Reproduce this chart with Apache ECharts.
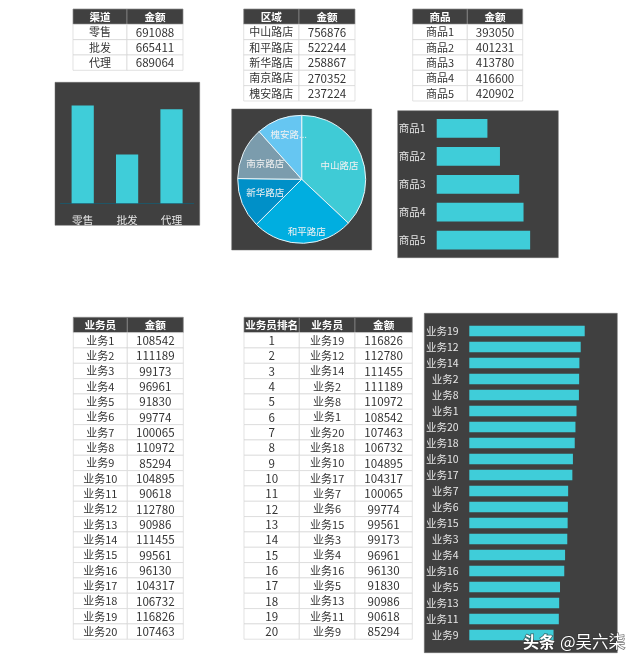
<!DOCTYPE html>
<html>
<head>
<meta charset="utf-8">
<style>
  html, body { margin: 0; padding: 0; background: #fff; }
  #main { width: 640px; height: 665px; }
</style>
<script src="https://cdn.jsdelivr.net/npm/echarts@6/dist/echarts.min.js"></script>
</head>
<body>
<div id="main"></div>
<script>
var chart = echarts.init(document.querySelector('#main'));

var fontName = '"Noto Sans CJK SC", "Noto Sans", sans-serif';
var panelColor = '#404040';
var barColor = '#3fcdd9';

// 数据
var channel = [['零售', 691088], ['批发', 665411], ['代理', 689064]];
var area = [['中山路店', 756876], ['和平路店', 522244], ['新华路店', 258867], ['南京路店', 270352], ['槐安路店', 237224]];
var goods = [['商品1', 393050], ['商品2', 401231], ['商品3', 413780], ['商品4', 416600], ['商品5', 420902]];
var sales = [
  ['业务1', 108542], ['业务2', 111189], ['业务3', 99173], ['业务4', 96961], ['业务5', 91830],
  ['业务6', 99774], ['业务7', 100065], ['业务8', 110972], ['业务9', 85294], ['业务10', 104895],
  ['业务11', 90618], ['业务12', 112780], ['业务13', 90986], ['业务14', 111455], ['业务15', 99561],
  ['业务16', 96130], ['业务17', 104317], ['业务18', 106732], ['业务19', 116826], ['业务20', 107463]
];

// 业务员排名
var ranked = sales.slice().sort(function (a, b) { return b[1] - a[1]; });
var rankedRows = ranked.map(function (d, i) { return [i + 1, d[0], d[1]]; });

var graphics = [];

// 深色底板
function addPanel(x, y, w, h) {
  graphics.push({
    type: 'rect', z: -10,
    shape: { x: x, y: y, width: w, height: h },
    style: { fill: panelColor, stroke: '#6a6a6a', lineWidth: 0.5 }
  });
}

// 表格: edges 是列边界, 每行高 15.33
function addTable(edges, top, header, rows) {
  var rowH = 15.33;
  var all = [header].concat(rows);
  all.forEach(function (row, r) {
    row.forEach(function (cell, c) {
      var x = edges[c], w = edges[c + 1] - edges[c], y = top + r * rowH;
      var font = typeof cell == 'number' ? '11.6px ' : '11px ';
      graphics.push({
        type: 'rect',
        shape: { x: x, y: y, width: w, height: rowH },
        style: { fill: r == 0 ? panelColor : '#fff', stroke: r == 0 ? '#8a8a8a' : '#d6d6d6', lineWidth: 0.7 }
      });
      graphics.push({
        type: 'text', z: 2,
        x: x + w / 2, y: y + rowH / 2 + 0.3,
        style: {
          text: String(cell),
          fill: r == 0 ? '#fff' : '#333',
          font: (r == 0 ? 'bold 10.6px ' : font) + fontName,
          align: 'center', verticalAlign: 'middle'
        }
      });
    });
  });
}

addTable([73, 127, 183], 9, ['渠道', '金额'], channel);
addTable([243.7, 299, 355], 9, ['区域', '金额'], area);
addTable([412.7, 467.3, 522.7], 9, ['商品', '金额'], goods);
addTable([73.3, 127.3, 183.3], 317.3, ['业务员', '金额'], sales);
addTable([244, 299.3, 355, 412.3], 317.3, ['业务员排名', '业务员', '金额'], rankedRows);

addPanel(55, 82.3, 144.7, 143);
addPanel(231.7, 109, 140, 141);
addPanel(397.7, 110.7, 160.6, 147);
addPanel(424.3, 313.3, 193, 339.4);

// 水印, 白字压到底板外面, 要加深色描边才看得见
graphics.push({
  type: 'text', z: 100, x: 523, y: 642,
  style: {
    text: '头条', fill: '#fff', font: 'bold 16px ' + fontName,
    align: 'left', verticalAlign: 'middle',
    stroke: 'rgba(50,50,50,0.7)', lineWidth: 1.5, strokeFirst: true
  }
});
graphics.push({
  type: 'text', z: 100, x: 560, y: 642,
  style: {
    text: '@吴六柒', fill: '#fff', font: '16.5px ' + fontName,
    align: 'left', verticalAlign: 'middle',
    stroke: 'rgba(50,50,50,0.7)', lineWidth: 1.5, strokeFirst: true
  }
});

function names(list) { return list.map(function (d) { return d[0]; }); }
function values(list) { return list.map(function (d) { return d[1]; }); }

var axisText = { color: '#e6e6e6', fontSize: 10.5, fontFamily: fontName };

// 饼图标签相对默认位置的偏移
var pieOffset = [[5.6, -0.3], [4.5, 17], [-4, 0.1], [-4.6, -1.6], [-0.5, -12]];
var pieColors = ['#3fcbd6', '#00aee0', '#0090c8', '#7b9cad', '#66c6f2'];

var option = {
  animation: false,
  graphic: graphics,
  grid: [
    { left: 60.5, top: 88.3, width: 133.2, height: 115 },
    { left: 436.7, top: 114.5, width: 107.4, height: 139.6 },
    { left: 469.3, top: 323, width: 138.3, height: 320 }
  ],
  xAxis: [
    {
      gridIndex: 0, type: 'category', data: names(channel),
      axisLine: { lineStyle: { color: '#1f5566', width: 1 } },
      axisTick: { show: false },
      axisLabel: { color: '#e6e6e6', fontSize: 10.7, fontFamily: fontName, margin: 11 }
    },
    { gridIndex: 1, type: 'value', min: 360000, max: 430000, show: false },
    { gridIndex: 2, type: 'value', min: 0, max: 140000, show: false }
  ],
  yAxis: [
    { gridIndex: 0, type: 'value', min: 640000, max: 700000, show: false },
    {
      gridIndex: 1, type: 'category', inverse: true, data: names(goods), z: 5,
      axisLine: { show: false }, axisTick: { show: false },
      axisLabel: Object.assign({ margin: 11, interval: 0 }, axisText)
    },
    {
      gridIndex: 2, type: 'category', inverse: true, data: names(ranked), z: 5,
      axisLine: { show: false }, axisTick: { show: false },
      axisLabel: Object.assign({ margin: 10.6, interval: 0 }, axisText)
    }
  ],
  series: [
    {
      type: 'bar', xAxisIndex: 0, yAxisIndex: 0,
      data: values(channel), barWidth: '50%',
      itemStyle: { color: barColor }
    },
    {
      type: 'pie', center: [301.7, 179.3], radius: 64, startAngle: 90, clockwise: true,
      data: area.map(function (d, i) {
        var item = { name: d[0], value: d[1], itemStyle: { color: pieColors[i] } };
        if (i == 4) {
          item.label = { formatter: '槐安路...' };
        }
        return item;
      }),
      itemStyle: { borderColor: '#e8f4f8', borderWidth: 1 },
      label: { position: 'inside', color: '#f2f2f2', fontSize: 9.5, fontFamily: fontName },
      labelLine: { show: false },
      labelLayout: function (params) {
        return { dx: pieOffset[params.dataIndex][0], dy: pieOffset[params.dataIndex][1] };
      }
    },
    {
      type: 'bar', xAxisIndex: 1, yAxisIndex: 1,
      data: values(goods), barWidth: 18.8,
      itemStyle: { color: barColor }
    },
    {
      type: 'bar', xAxisIndex: 2, yAxisIndex: 2,
      data: values(ranked), barWidth: 10.7,
      itemStyle: { color: barColor }
    }
  ]
};

chart.setOption(option);
</script>
</body>
</html>
